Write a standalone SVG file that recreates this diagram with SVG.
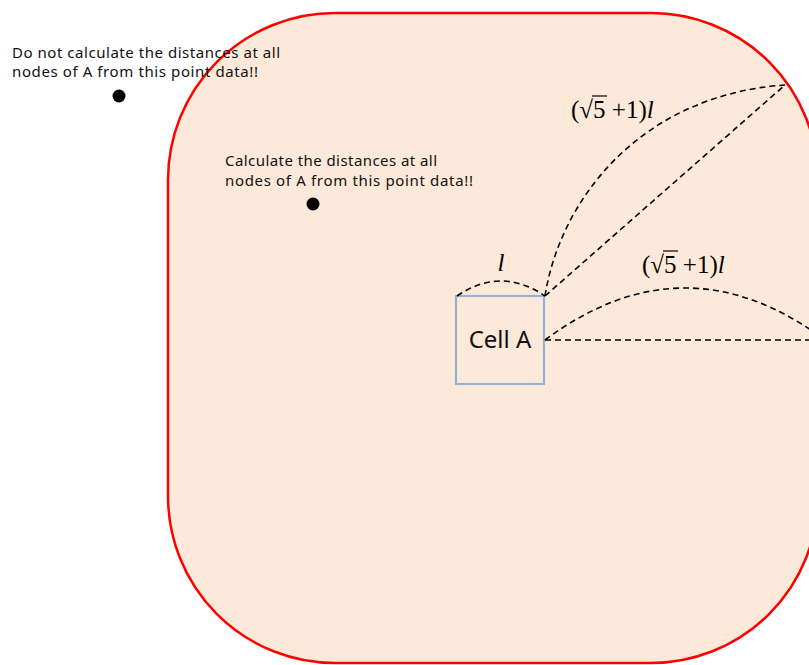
<svg xmlns="http://www.w3.org/2000/svg" width="809" height="665" viewBox="0 0 809 665">
<style>
.note{font-family:"Noto Sans","Open Sans",sans-serif;font-size:15px;fill:#111}
.dash{fill:none;stroke:#000;stroke-width:1.6;stroke-dasharray:6 4}
.math{font-family:"Liberation Serif","DejaVu Serif",serif;font-size:25px;fill:#000}
</style>
<rect width="809" height="665" fill="#fff"/>
<g id="region">
<rect x="168" y="13" width="650" height="650" rx="167" ry="167" fill="#FDE9DA" stroke="#FF0000" stroke-width="2.5"/>
</g>
<g id="note-outside">
<text class="note" x="12" y="58" textLength="268" lengthAdjust="spacing">Do not calculate the distances at all</text>
<text class="note" x="12" y="77" textLength="246" lengthAdjust="spacing">nodes of A from this point data!!</text>
<circle cx="119" cy="96" r="6.5" fill="#000"/>
</g>
<g id="note-inside">
<text class="note" x="225" y="166" textLength="212" lengthAdjust="spacing">Calculate the distances at all</text>
<text class="note" x="225" y="186" textLength="248" lengthAdjust="spacing">nodes of A from this point data!!</text>
<circle cx="313" cy="204" r="6.5" fill="#000"/>
</g>
<g id="cellA">
<rect x="456" y="296" width="88" height="88" fill="none" stroke="#95B3D7" stroke-width="2.2"/>
<text x="500" y="348" text-anchor="middle" font-family="Noto Sans,Open Sans,sans-serif" font-size="24" fill="#111">Cell A</text>
</g>
<g id="connectors">
<path class="dash" d="M457 296 Q501 266 545 296"/>
<path class="dash" d="M545 296 L785 85"/>
<path class="dash" d="M545 296 C560 200 640 95 785 85"/>
<path class="dash" d="M545 340 L809 340"/>
<path class="dash" d="M545 340 Q685 236 825 340"/>
</g>
<g id="labels">
<text class="math" x="501" y="271" text-anchor="middle" font-style="italic" font-size="32">l</text>
<text class="math" x="571" y="118">(√<tspan>5</tspan> +1)<tspan font-style="italic">l</tspan></text>
<line x1="592" y1="96" x2="607" y2="96" stroke="#000" stroke-width="1.2"/>
<text class="math" x="642" y="273">(√<tspan>5</tspan> +1)<tspan font-style="italic">l</tspan></text>
<line x1="663" y1="251" x2="678" y2="251" stroke="#000" stroke-width="1.2"/>
</g>
</svg>
